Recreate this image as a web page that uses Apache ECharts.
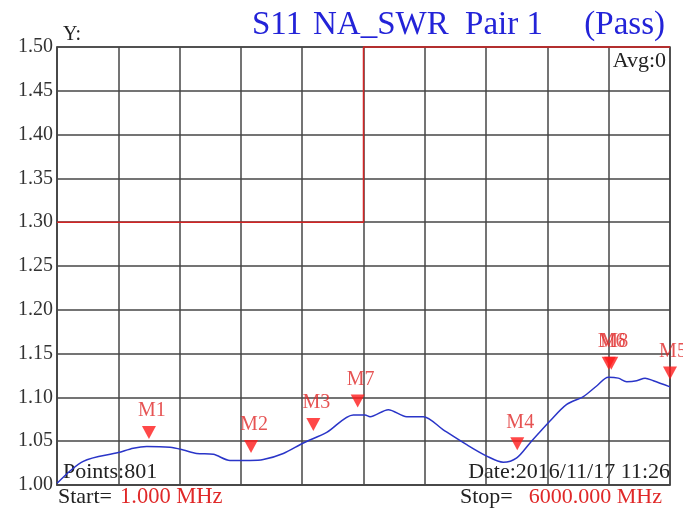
<!DOCTYPE html>
<html>
<head>
<meta charset="utf-8">
<script src="https://cdn.jsdelivr.net/npm/echarts@6/dist/echarts.min.js"></script>
<style>
  html, body { margin: 0; padding: 0; background: #fff; }
  #chart { width: 683px; height: 511px; }
</style>
</head>
<body>
<div id="chart"></div>
<script>
// trace (MHz, SWR)
const freqs = [1, 257, 600, 747, 878, 1106, 1236, 1367, 1530, 1693, 1889, 2019, 2215, 2411, 2640, 2900, 3015, 3064, 3243, 3423, 3585, 3781, 4010, 4206, 4368, 4500, 4630, 4825, 4989, 5152, 5282, 5396, 5494, 5576, 5674, 5756, 5837, 6000]
const swr = [1.002, 1.027, 1.037, 1.042, 1.044, 1.043, 1.040, 1.036, 1.035, 1.028, 1.028, 1.029, 1.036, 1.048, 1.060, 1.080, 1.080, 1.078, 1.086, 1.078, 1.078, 1.063, 1.046, 1.033, 1.026, 1.031, 1.048, 1.073, 1.092, 1.101, 1.113, 1.123, 1.122, 1.118, 1.119, 1.122, 1.119, 1.112]

// pass/fail limit
const limitFreqs = [0, 3000, 3000, 6000]
const limitSwr = [1.30, 1.30, 1.50, 1.50]

// markers
const markerNames = ['M1', 'M2', 'M3', 'M7', 'M4', 'M6', 'M8', 'M5']
const markerFreqs = [900, 1899, 2509, 2943, 4505, 5400, 5425, 6000]
const markerSwr = [1.044, 1.028, 1.053, 1.080, 1.031, 1.123, 1.123, 1.112]

const yTicks = { min: 1.0, max: 1.5, step: 0.05 }

const serif = 'Liberation Serif'
const gridColor = '#464646'
const titleFont = '33px "Liberation Serif"'
const textFont = '22px "Liberation Serif"'

const chart = echarts.init(document.getElementById('chart'))

const traceData = freqs.map((f, i) => [f, swr[i]])
const limitData = limitFreqs.map((f, i) => [f, limitSwr[i]])
const markerData = markerNames.map((n, i) => ({ name: n, value: [markerFreqs[i], markerSwr[i]] }))

const option = {
  animation: false,
  grid: {
    left: 57,
    right: 13,
    top: 47,
    bottom: 26,
    show: true,
    borderColor: gridColor,
    borderWidth: 1.5
  },
  xAxis: {
    type: 'value',
    min: 0,
    max: 6000,
    interval: 600,
    axisLine: { show: true, lineStyle: { color: gridColor, width: 1.5 } },
    axisTick: { show: false },
    axisLabel: { show: false },
    splitLine: { show: true, lineStyle: { color: gridColor, width: 1.5 } }
  },
  yAxis: {
    type: 'value',
    min: yTicks.min,
    max: yTicks.max,
    interval: yTicks.step,
    axisLine: { show: true, lineStyle: { color: gridColor, width: 1.5 } },
    axisTick: { show: false },
    axisLabel: {
      margin: 4,
      color: '#333',
      fontFamily: serif,
      fontSize: 20,
      formatter: (v) => v.toFixed(2)
    },
    splitLine: { show: true, lineStyle: { color: gridColor, width: 1.5 } }
  },
  series: [
    {
      name: 'limit',
      type: 'line',
      data: limitData,
      symbol: 'none',
      clip: false,
      lineStyle: { color: '#d42525', width: 1.5 },
      z: 3
    },
    {
      name: 'S11',
      type: 'line',
      data: traceData,
      symbol: 'none',
      smooth: 0.3,
      lineStyle: { color: '#2a35c8', width: 1.5 },
      z: 4
    },
    {
      name: 'markers',
      type: 'scatter',
      data: markerData,
      symbol: 'triangle',
      symbolRotate: 180,
      symbolSize: [14, 13],
      symbolOffset: [0, -14],
      clip: false,
      itemStyle: { color: '#ff1a1a' },
      label: {
        show: true,
        position: 'top',
        distance: 5,
        offset: [3, 0],
        formatter: (p) => p.name,
        color: '#e02828',
        fontFamily: serif,
        fontSize: 20
      },
      z: 5
    }
  ],
  graphic: [
    {
      type: 'text', left: 252, top: 9,
      style: { text: 'S11', font: titleFont, fill: '#2323d8' }
    },
    {
      type: 'text', left: 313, top: 9,
      style: { text: 'NA_SWR', font: titleFont, fill: '#2323d8' }
    },
    {
      type: 'text', right: 140, top: 9,
      style: { text: 'Pair 1', font: titleFont, fill: '#2323d8' }
    },
    {
      type: 'text', right: 18, top: 9,
      style: { text: '(Pass)', font: titleFont, fill: '#2323d8' }
    },
    {
      type: 'text', left: 63, top: 25,
      style: { text: 'Y:', font: '20px "Liberation Serif"', fill: '#222' }
    },
    {
      type: 'text', right: 17, top: 50,
      style: { text: 'Avg:0', font: textFont, fill: '#222' }
    },
    {
      type: 'text', left: 63, top: 461,
      style: { text: 'Points:801', font: textFont, fill: '#222' }
    },
    {
      type: 'text', right: 13, top: 461,
      style: { text: 'Date:2016/11/17 11:26', font: textFont, fill: '#222' }
    },
    {
      type: 'text', left: 58, top: 486,
      style: { text: 'Start=', font: textFont, fill: '#222' }
    },
    {
      type: 'text', left: 120, top: 486,
      style: { text: '1.000 MHz', font: '22.5px "Liberation Serif"', fill: '#e02828' }
    },
    {
      type: 'text', left: 460, top: 486,
      style: { text: 'Stop=', font: textFont, fill: '#222' }
    },
    {
      type: 'text', right: 21, top: 486,
      style: { text: '6000.000 MHz', font: textFont, fill: '#e02828' }
    }
  ]
}

chart.setOption(option)
</script>
</body>
</html>
